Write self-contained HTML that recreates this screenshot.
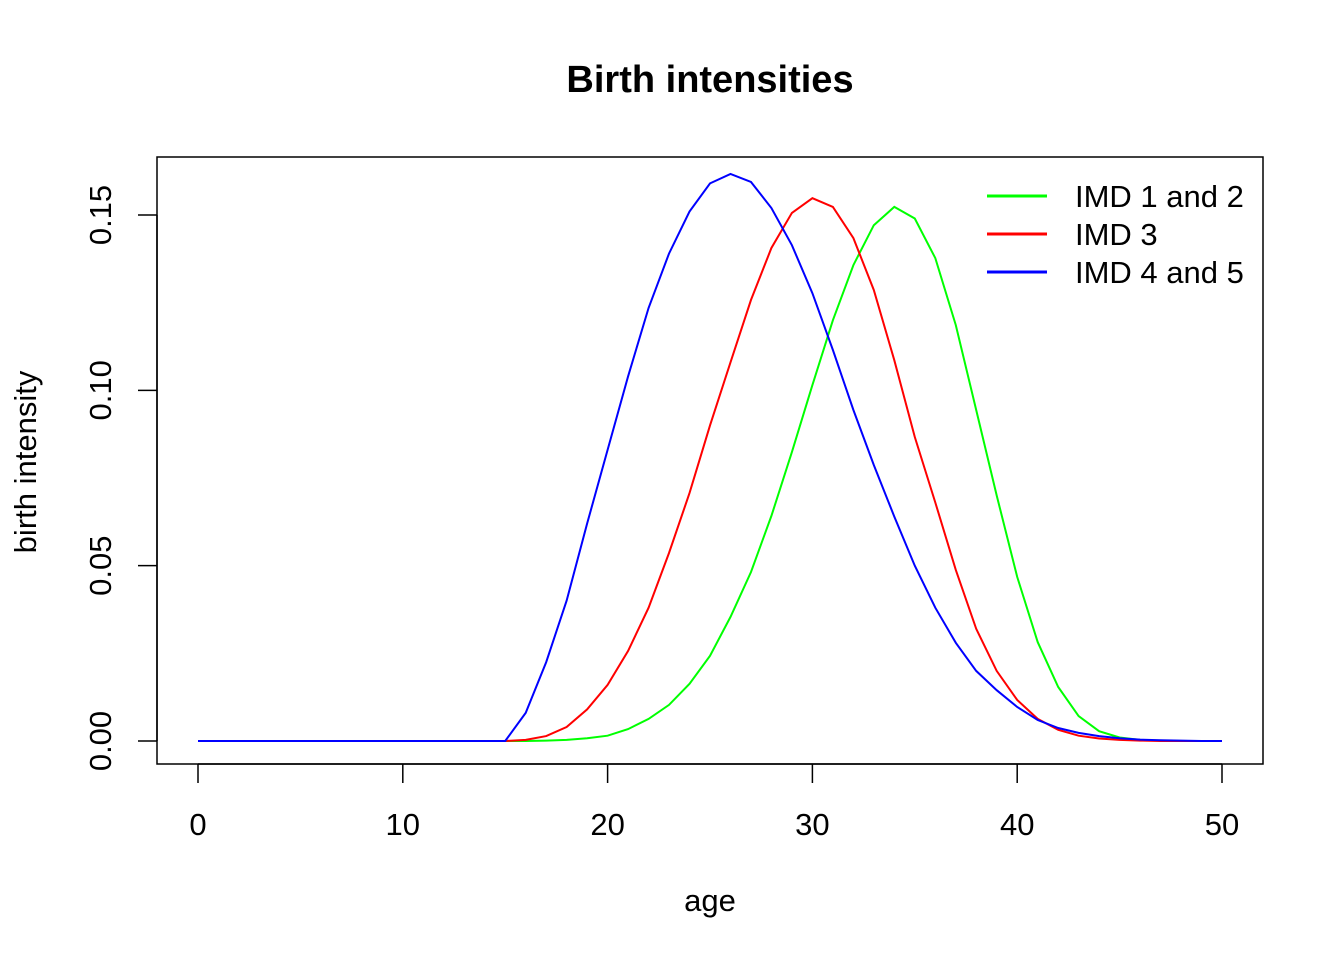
<!DOCTYPE html>
<html><head><meta charset="utf-8"><style>
body{margin:0;background:#fff}
svg{display:block;font-family:"Liberation Sans",Arial,sans-serif}
</style></head><body>
<svg id="chart" width="1344" height="960" xmlns="http://www.w3.org/2000/svg">
<text x="710" y="92" text-anchor="middle" font-size="38" font-weight="bold">Birth intensities</text>
<rect x="157" y="157" width="1106" height="607" fill="none" stroke="#000" stroke-width="1.5"/>
<g id="xaxis"></g>
<g id="yaxis"></g>
<text x="710" y="911" text-anchor="middle" font-size="31">age</text>
<text transform="translate(36,462) rotate(-90)" text-anchor="middle" font-size="31">birth intensity</text>
<g id="series"></g>
<g id="legend"></g>
</svg>
<script>
const ages = Array.from({length:51},(_,i)=>i);
const seriesNames = ["IMD 1 and 2","IMD 3","IMD 4 and 5"];
const seriesColors = ["#00ff00","#ff0000","#0000ff"];
const zeros15 = [0,0,0,0,0,0,0,0,0,0,0,0,0,0,0,0];
const imd12 = zeros15.concat([0,0.0001,0.0003,0.0008,0.0015,0.0034,0.0063,0.0103,0.0163,0.0243,0.0354,0.0482,0.0642,0.0824,0.1015,0.120,0.1357,0.1471,0.1523,0.149,0.1377,0.1186,0.0944,0.070,0.0468,0.0282,0.0154,0.0071,0.0028,0.001,0.0003,0.0001,0,0,0]);
const imd3 = zeros15.concat([0.0003,0.0014,0.004,0.009,0.016,0.0257,0.038,0.0536,0.0707,0.090,0.108,0.1258,0.1406,0.1506,0.1548,0.1523,0.1434,0.1286,0.1086,0.0867,0.068,0.0488,0.032,0.020,0.0117,0.0063,0.0032,0.0015,0.0007,0.0003,0.0001,0,0,0,0]);
const imd45 = zeros15.concat([0.008,0.0225,0.040,0.062,0.083,0.104,0.1235,0.139,0.151,0.159,0.1617,0.1594,0.152,0.1414,0.1277,0.1115,0.0944,0.0787,0.064,0.050,0.038,0.028,0.020,0.0145,0.0097,0.006,0.0037,0.0023,0.0014,0.0008,0.0004,0.0002,0.0001,0,0]);
const xTicks = [0,10,20,30,40,50];
const yTicks = [0,0.05,0.10,0.15];
const yTickLabels = ["0.00","0.05","0.10","0.15"];

const NS="http://www.w3.org/2000/svg";
const sx = v => 198 + v*(1222-198)/50;
const sy = v => 741 - v*(741-215)/0.15;
function mk(tag,attrs,parent){const e=document.createElementNS(NS,tag);for(const k in attrs)e.setAttribute(k,attrs[k]);parent.appendChild(e);return e;}

const xa=document.getElementById('xaxis');
mk('line',{x1:sx(0),x2:sx(50),y1:764,y2:764,stroke:'#000','stroke-width':1.5},xa);
xTicks.forEach(t=>{
  const l=mk('line',{x1:sx(t),x2:sx(t),y1:764,y2:783,stroke:'#000','stroke-width':1.5},xa);
  
  
  const tx=mk('text',{x:sx(t),y:835,'text-anchor':'middle','font-size':31},xa);
  tx.textContent=t;
  
  
});
const ya=document.getElementById('yaxis');
mk('line',{x1:157,x2:157,y1:sy(0),y2:sy(0.15),stroke:'#000','stroke-width':1.5},ya);
yTicks.forEach((t,i)=>{
  const l=mk('line',{x1:138,x2:157,y1:sy(t),y2:sy(t),stroke:'#000','stroke-width':1.5},ya);
  
  
  const tx=mk('text',{transform:`translate(111,${sy(t)}) rotate(-90)`,'text-anchor':'middle','font-size':31},ya);
  tx.textContent=yTickLabels[i];
  
  
});
const sg=document.getElementById('series');
[imd12,imd3,imd45].forEach((vals,si)=>{
  const pts=ages.map((a,i)=>sx(a).toFixed(1)+','+sy(vals[i]).toFixed(1)).join(' ');
  const p=mk('polyline',{points:pts,fill:'none',stroke:seriesColors[si],'stroke-width':2},sg);
  
  
});
const lg=document.getElementById('legend');
seriesNames.forEach((n,i)=>{
  const y=196+i*38;
  const l=mk('line',{x1:987,x2:1047,y1:y,y2:y,stroke:seriesColors[i],'stroke-width':3},lg);
  
  
  const t=mk('text',{x:1075,y:y+11,'font-size':31},lg);
  t.textContent=n;
  
  
});
</script>
</body></html>
